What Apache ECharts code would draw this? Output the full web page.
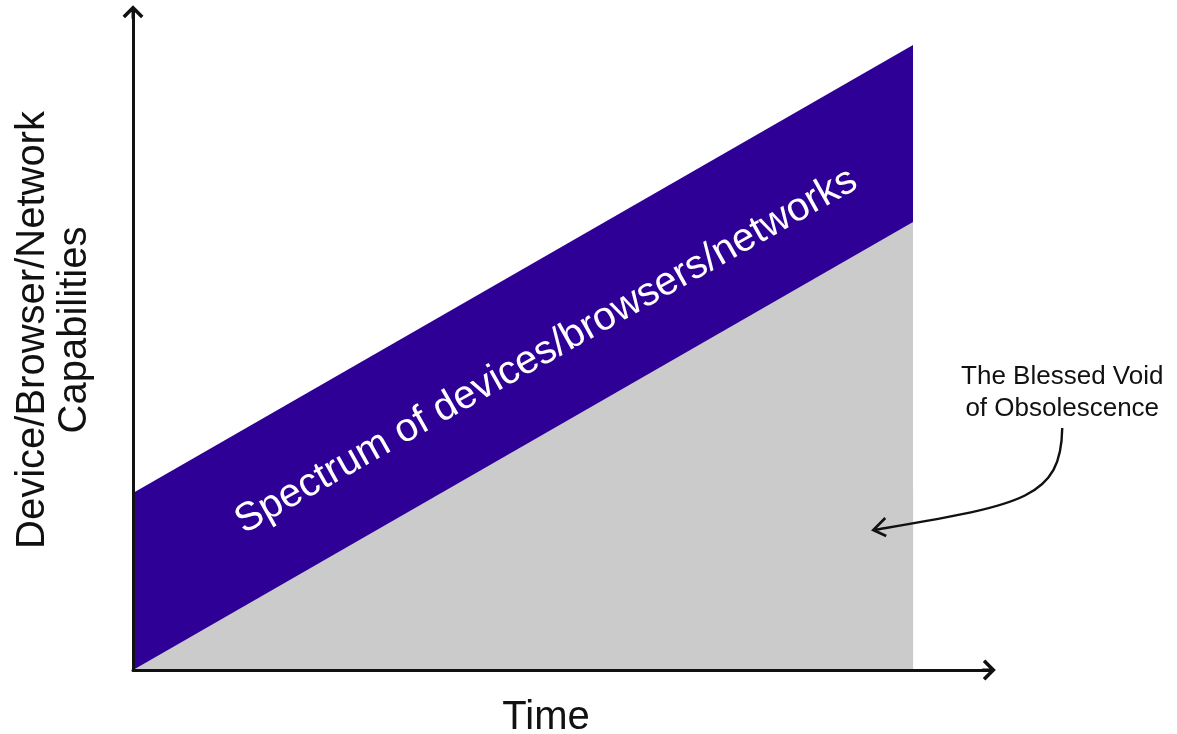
<!DOCTYPE html>
<html>
<head>
<meta charset="utf-8">
<title>Spectrum of devices</title>
<script src="https://cdn.jsdelivr.net/npm/echarts@6/dist/echarts.min.js"></script>
<style>
html, body { margin: 0; padding: 0; background: #fff; }
#chart { width: 1177px; height: 734px; }
</style>
</head>
<body>
<div id="chart"></div>
<script>
// time runs 0..10, capability in arbitrary units
const timeStops = [0, 10];
const lowerEdge = [0, 44.8];     // oldest stuff still in use
const upperEdge = [17.7, 62.5];  // newest stuff
const bandLabel = 'Spectrum of devices/browsers/networks';
const voidNote = ['The Blessed Void', 'of Obsolescence'];
const voidPoint = [9.49, 14.0];  // where the note's arrow points

const FONT = '"Liberation Sans", Arial, sans-serif';
const PURPLE = '#2f0095';
const GRAY = '#cbcbcb';
const INK = '#111';
// open chevron + little stem so it joins the axis line
const ARROW = 'path://M10,0 L20,10 L17.6,12.4 L10,4.8 L2.4,12.4 L0,10 Z M8.6,3 L11.4,3 L11.4,13 L8.6,13 Z';

const toPairs = ys => timeStops.map((t, i) => [t, ys[i]]);

const chart = echarts.init(document.getElementById('chart'));

const axisCommon = {
  type: 'value',
  z: 5,
  axisLabel: { show: false },
  axisTick: { show: false },
  splitLine: { show: false },
  axisLine: {
    show: true,
    symbol: ['none', ARROW],
    symbolSize: [21, 13.6],
    lineStyle: { color: INK, width: 3 }
  },
  nameLocation: 'middle'
};

const option = {
  animation: false,
  grid: { left: 133, right: 188, top: 12, bottom: 64, containLabel: false, outerBoundsMode: 'none' },
  xAxis: Object.assign({}, axisCommon, {
    min: 0,
    max: 10.974,
    name: 'Time',
    nameGap: 28,
    nameTextStyle: { fontFamily: FONT, fontSize: 40, color: INK, padding: [0, 30, 0, 0] }
  }),
  yAxis: Object.assign({}, axisCommon, {
    min: 0,
    max: 65.8,
    name: 'Device/Browser/Network\nCapabilities',
    nameRotate: 90,
    nameGap: 37,
    nameTextStyle: { fontFamily: FONT, fontSize: 40, lineHeight: 42, color: INK, padding: [0, 0, 0, 22] }
  }),
  series: [
    {
      name: 'Spectrum',
      type: 'line',
      data: toPairs(upperEdge),
      symbol: 'none',
      silent: true,
      z: 1,
      lineStyle: { width: 0, opacity: 0 },
      areaStyle: { color: PURPLE, opacity: 1 }
    },
    {
      name: 'Obsolete',
      type: 'line',
      data: toPairs(lowerEdge),
      symbol: 'none',
      silent: true,
      z: 2,
      lineStyle: { width: 0, opacity: 0 },
      areaStyle: { color: GRAY, opacity: 1 }
    }
  ]
};

chart.setOption(option);

// label along the band, nudged a little below the band's middle line
const a = chart.convertToPixel({ gridIndex: 0 }, [timeStops[0], (lowerEdge[0] + upperEdge[0]) / 2]);
const b = chart.convertToPixel({ gridIndex: 0 }, [timeStops[1], (lowerEdge[1] + upperEdge[1]) / 2]);
const f = 0.526;
const angle = Math.atan2(a[1] - b[1], b[0] - a[0]) - 0.008;
const nudge = 6;
const tip = chart.convertToPixel({ gridIndex: 0 }, voidPoint);

chart.setOption({
  graphic: [
    {
      type: 'text',
      x: a[0] + (b[0] - a[0]) * f + nudge * Math.sin(angle),
      y: a[1] + (b[1] - a[1]) * f + nudge * Math.cos(angle),
      rotation: angle,
      z: 10,
      style: {
        text: bandLabel,
        fill: '#fff',
        fontSize: 40,
        fontFamily: FONT,
        align: 'center',
        verticalAlign: 'middle'
      }
    },
    {
      type: 'text',
      x: tip[0] + 189,
      y: tip[1] - 137,
      z: 10,
      style: {
        text: voidNote.join('\n'),
        fill: INK,
        fontSize: 26,
        lineHeight: 32,
        fontFamily: FONT,
        align: 'center',
        verticalAlign: 'middle'
      }
    },
    {
      type: 'bezierCurve',
      z: 10,
      shape: {
        x1: tip[0] + 189, y1: tip[1] - 102,
        cpx1: tip[0] + 188, cpy1: tip[1] - 30,
        cpx2: tip[0] + 147, cpy2: tip[1] - 25,
        x2: tip[0] + 1, y2: tip[1]
      },
      style: { stroke: INK, lineWidth: 2.4, fill: null }
    },
    {
      type: 'polyline',
      z: 10,
      shape: { points: [[tip[0] + 12, tip[1] - 12], [tip[0], tip[1]], [tip[0] + 13, tip[1] + 6]] },
      style: { stroke: INK, lineWidth: 2.6, fill: null }
    }
  ]
});
</script>
</body>
</html>
